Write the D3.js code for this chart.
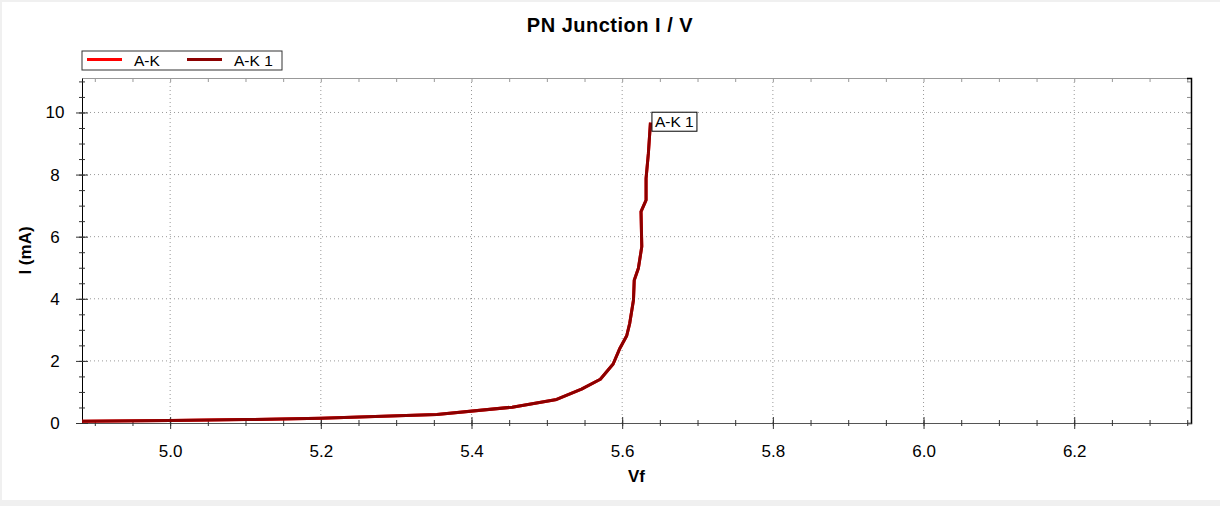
<!DOCTYPE html>
<html>
<head>
<meta charset="utf-8">
<script src="https://cdn.jsdelivr.net/npm/d3@7"></script>
<style>
  body { margin: 0; background: #f0f0f0; }
  svg { display: block; font-family: "Liberation Sans", Arial, sans-serif; }
</style>
</head>
<body>
<div id="chart"></div>
<script>
// Forward voltage (V) and current (mA)
var vf = [4.883, 5.0, 5.1, 5.2, 5.354, 5.454, 5.513, 5.546, 5.571, 5.588, 5.597, 5.606,
          5.610, 5.615, 5.616, 5.6215, 5.626, 5.625, 5.6317, 5.6317, 5.6348, 5.6375];
var current = [0.06, 0.08, 0.11, 0.15, 0.27, 0.51, 0.76, 1.09, 1.41, 1.9, 2.41, 2.81,
               3.21, 3.96, 4.6, 4.98, 5.68, 6.81, 7.18, 7.88, 8.69, 9.67];

var seriesNames = ["A-K", "A-K 1"];
var seriesColors = ["#ff0000", "#8b0000"];

var xMajor = [5.0, 5.2, 5.4, 5.6, 5.8, 6.0, 6.2];
var yMajor = [0, 2, 4, 6, 8, 10];
var xDomain = [4.883, 6.355];
var yDomain = [0, 11.11];

var W = 1220, H = 506;
var margin = { top: 78, right: 29, bottom: 83, left: 82 };
var width = W - margin.left - margin.right,
    height = H - margin.top - margin.bottom;

var svg = d3.select("#chart").append("svg")
    .attr("width", W)
    .attr("height", H);

// white panel with a thin grey frame
svg.append("rect")
    .attr("x", 2).attr("y", 2)
    .attr("width", W - 2).attr("height", H - 8)
    .attr("fill", "#fff");

var g = svg.append("g")
    .attr("transform", "translate(" + margin.left + "," + margin.top + ")");

var x = d3.scaleLinear().domain(xDomain).range([0, width]);
var y = d3.scaleLinear().domain(yDomain).range([height, 0]);

// minor tick positions
var xMinor = d3.range(4.9, 6.36, 0.05).filter(function(v) { return v >= xDomain[0] && v <= xDomain[1]; });
var yMinor = d3.range(0, 11.01, 0.5);

// dotted grid
g.append("g").selectAll("line")
    .data(xMajor)
    .enter().append("line")
    .attr("x1", function(d) { return x(d); })
    .attr("x2", function(d) { return x(d); })
    .attr("y1", 0).attr("y2", height)
    .attr("stroke", "#999").attr("stroke-dasharray", "1,3");

g.append("g").selectAll("line")
    .data(yMajor.filter(function(d) { return d > 0; }))
    .enter().append("line")
    .attr("y1", function(d) { return y(d); })
    .attr("y2", function(d) { return y(d); })
    .attr("x1", 0).attr("x2", width)
    .attr("stroke", "#999").attr("stroke-dasharray", "1,3");

// top and right frame with small inward ticks
g.append("g")
    .call(d3.axisTop(x).tickValues(xMinor).tickSize(-4).tickFormat(""))
    .call(function(a) {
        a.select(".domain").attr("stroke", "#999");
        a.selectAll(".tick line").attr("stroke", "#999");
    });

g.append("g")
    .attr("transform", "translate(" + width + ",0)")
    .call(d3.axisRight(y).tickValues(yMinor).tickSize(-4).tickFormat(""))
    .call(function(a) {
        a.select(".domain").attr("stroke", "#000").attr("stroke-width", 1.5);
        a.selectAll(".tick line").attr("stroke", "#888");
    });

// bottom axis: minor ticks + labelled majors
g.append("g")
    .attr("transform", "translate(0," + height + ")")
    .call(d3.axisBottom(x).tickValues(xMinor).tickSize(0).tickFormat(""))
    .call(function(a) {
        a.select(".domain").attr("stroke", "#555");
        a.selectAll(".tick line").attr("y1", -3).attr("y2", 3).attr("stroke", "#333");
    });

g.append("g")
    .attr("transform", "translate(0," + height + ")")
    .call(d3.axisBottom(x).tickValues(xMajor).tickSize(0).tickPadding(22).tickFormat(d3.format(".1f")))
    .call(function(a) {
        a.select(".domain").remove();
        a.selectAll(".tick line").attr("y1", -6).attr("y2", 6).attr("stroke", "#333");
        a.selectAll("text").attr("font-size", 17).attr("fill", "#000")
            .attr("font-family", "Liberation Sans, Arial, sans-serif");
    });

// left axis
g.append("g")
    .call(d3.axisLeft(y).tickValues(yMinor).tickSize(0).tickFormat(""))
    .call(function(a) {
        a.select(".domain").attr("stroke", "#000");
        a.selectAll(".tick line").attr("x1", -3).attr("x2", 3).attr("stroke", "#333");
    });

g.append("g")
    .call(d3.axisLeft(y).tickValues(yMajor).tickSize(0).tickPadding(27).tickFormat(d3.format("d")))
    .call(function(a) {
        a.select(".domain").remove();
        a.selectAll(".tick line").attr("x1", -6).attr("x2", 6).attr("stroke", "#333");
        a.selectAll("text").attr("font-size", 17).attr("fill", "#000")
            .attr("text-anchor", "middle")
            .attr("font-family", "Liberation Sans, Arial, sans-serif");
    });

// curves
var points = vf.map(function(v, i) { return [v, current[i]]; });
var line = d3.line()
    .x(function(d) { return x(d[0]); })
    .y(function(d) { return y(d[1]); });

seriesNames.forEach(function(name, i) {
    g.append("path")
        .datum(points)
        .attr("d", line)
        .attr("fill", "none")
        .attr("stroke", seriesColors[i])
        .attr("stroke-width", 3)
        .attr("stroke-linejoin", "round");
});

// end label
var last = points[points.length - 1];
var lab = g.append("g")
    .attr("transform", "translate(" + (x(last[0]) + 1.5) + "," + (y(last[1]) - 10.5) + ")");
lab.append("rect")
    .attr("width", 45).attr("height", 19)
    .attr("fill", "#fff").attr("stroke", "#000");
lab.append("text")
    .attr("x", 3).attr("y", 15)
    .attr("font-size", 15.5)
    .text(seriesNames[1]);

// legend
var legend = svg.append("g").attr("transform", "translate(82,51)");
legend.append("rect")
    .attr("width", 200).attr("height", 19)
    .attr("fill", "#fff").attr("stroke", "#333");
var items = legend.selectAll(".item")
    .data(seriesNames)
    .enter().append("g")
    .attr("transform", function(d, i) { return "translate(" + (5 + i * 100) + ",0)"; });
items.append("line")
    .attr("x1", 0).attr("x2", 35)
    .attr("y1", 8.5).attr("y2", 8.5)
    .attr("stroke", function(d, i) { return seriesColors[i]; })
    .attr("stroke-width", 3);
items.append("text")
    .attr("x", 47).attr("y", 14.5)
    .attr("font-size", 15.5)
    .text(function(d) { return d; });

// titles
svg.append("text")
    .attr("x", W / 2).attr("y", 32)
    .attr("text-anchor", "middle")
    .attr("font-size", 20).attr("font-weight", "bold")
    .attr("letter-spacing", 0.5)
    .text("PN Junction I / V");

svg.append("text")
    .attr("x", margin.left + width / 2).attr("y", 482)
    .attr("text-anchor", "middle")
    .attr("font-size", 17).attr("font-weight", "bold")
    .text("Vf");

svg.append("text")
    .attr("transform", "translate(31," + (margin.top + height / 2) + ") rotate(-90)")
    .attr("text-anchor", "middle")
    .attr("font-size", 17).attr("font-weight", "bold")
    .text("I (mA)");
</script>
</body>
</html>
